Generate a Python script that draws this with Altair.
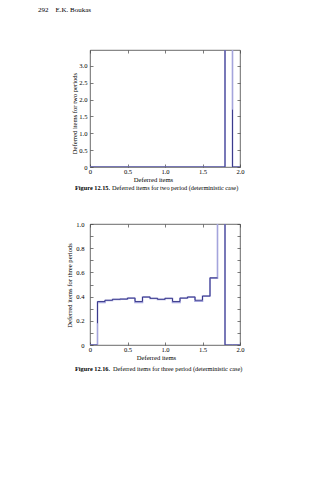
import altair as alt
import pandas as pd

FONT = "Liberation Serif"

# ---------------- data ----------------
header_text = "292\u00a0\u00a0\u00a0\u00a0E.K. Boukas"

# Figure 12.15 (two periods)
f1_light_x = [0.0, 1.8, 1.8, 1.9, 1.9, 2.0]
f1_light_y = [0.0, 0.0, 4.0, 4.0, 0.0, 0.0]
f1_dark_x = [0.0, 1.8, 1.8, 1.9, 1.9, 2.0]
f1_dark_y = [0.0, 0.0, 4.0, 1.7, 0.0, 0.0]
f1_dark_seg = [0, 0, 0, 1, 1, 1]
f1_caption_bold = "Figure 12.15."
f1_caption_rest = "Deferred items for two period (deterministic case)"
f1_ylabel = "Deferred items for two periods"

# Figure 12.16 (three periods): step function on 0.1-wide cells
f2_edges = [0.0, 0.1, 0.2, 0.3, 0.4, 0.5, 0.6, 0.7, 0.8, 0.9, 1.0,
            1.1, 1.2, 1.3, 1.4, 1.5, 1.6, 1.7, 1.8, 1.9, 2.0]
f2_dark_vals = [0.0, 0.36, 0.37, 0.378, 0.38, 0.388, 0.36, 0.397, 0.386, 0.378,
                0.386, 0.36, 0.388, 0.397, 0.37, 0.405, 0.555, 1.2, 0.0, 0.0]
f2_light_vals = [0.0, 0.352, 0.368, 0.376, 0.378, 0.386, 0.352, 0.395, 0.384, 0.376,
                 0.384, 0.352, 0.386, 0.395, 0.362, 0.403, 0.553, 1.2, 0.0, 0.0]
f2_dark_start = 0.18
f2_caption_bold = "Figure 12.16."
f2_caption_rest = "Deferred items for three period (deterministic case)"
f2_ylabel = "Deferred items for three periods"
xlabel = "Deferred items"

x_ticks = [0.0, 0.5, 1.0, 1.5, 2.0]
f1_y_ticks = [0.0, 0.5, 1.0, 1.5, 2.0, 2.5, 3.0]
f2_y_labels = [0.0, 0.2, 0.4, 0.6, 0.8, 1.0]
f2_y_ticks = [0.0, 0.1, 0.2, 0.3, 0.4, 0.5, 0.6, 0.7, 0.8, 0.9, 1.0]

# ---------------- tables ----------------
f1_light = pd.DataFrame({"x": f1_light_x, "y": f1_light_y, "seg": 0,
                         "i": range(len(f1_light_x))})
f1_dark = pd.DataFrame({"x": f1_dark_x, "y": f1_dark_y, "seg": f1_dark_seg,
                        "i": range(len(f1_dark_x))})

rows = []
for k in range(20):
    rows.append((f2_edges[k], f2_light_vals[k], 0))
    rows.append((f2_edges[k + 1], f2_light_vals[k], 0))
f2_light = pd.DataFrame(rows, columns=["x", "y", "seg"])
f2_light["i"] = range(len(f2_light))

rows = [(f2_edges[0], f2_dark_vals[0], 0), (f2_edges[1], f2_dark_vals[0], 0),
        (f2_edges[1], f2_dark_start, 1)]
for k in range(1, 17):
    rows.append((f2_edges[k], f2_dark_vals[k], 1))
    rows.append((f2_edges[k + 1], f2_dark_vals[k], 1))
rows.append((f2_edges[18], f2_dark_vals[17], 2))
for k in range(18, 20):
    rows.append((f2_edges[k], f2_dark_vals[k], 2))
    rows.append((f2_edges[k + 1], f2_dark_vals[k], 2))
f2_dark = pd.DataFrame(rows, columns=["x", "y", "seg"])
f2_dark["i"] = range(len(f2_dark))

LABEL_EXPR = "datum.value == 0 ? '0' : format(datum.value, '.1f')"
DARK = "#3b3b8c"
LIGHT = "#a4a4dc"
TICKC = "#444444"


def figure(light, dark, W, H, ydom, ylabels, yticks, ylabel,
           ylabpad, ytitlex, ytitley, xtitlex, xtitley,
           cap_bold, cap_rest, cap_x, cap_y, cap_x2, header=None):
    xs = alt.Scale(domain=[0, 2], nice=False, zero=False)
    ys = alt.Scale(domain=ydom, nice=False, zero=False)

    def inner_x(orient):
        return alt.Axis(orient=orient, offset=-H, values=x_ticks, labels=False,
                        ticks=True, tickSize=3, tickColor=TICKC, tickWidth=0.7,
                        domain=False, grid=False, title=None)

    def inner_y(orient):
        return alt.Axis(orient=orient, offset=-W, values=yticks, labels=False,
                        ticks=True, tickSize=3, tickColor=TICKC, tickWidth=0.7,
                        domain=False, grid=False, title=None)

    base_x_axis = alt.Axis(orient="bottom", values=x_ticks, ticks=False, domain=False,
                           grid=False, labelExpr=LABEL_EXPR, labelPadding=1,
                           labelFlush=False, labelFontSize=6.6, title=xlabel,
                           titleX=xtitlex, titleY=xtitley, titleBaseline="middle",
                           titleAlign="center", titleFontSize=6.6, titleFontWeight="normal")
    base_y_axis = alt.Axis(orient="left", values=ylabels, ticks=False, domain=False,
                           grid=False, labelExpr=LABEL_EXPR, labelPadding=ylabpad,
                           labelFlush=False, labelFontSize=6.6, title=ylabel,
                           titleX=ytitlex, titleY=ytitley, titleAngle=270,
                           titleBaseline="middle", titleAlign="center",
                           titleFontSize=6.6, titleFontWeight="normal")

    light_layer = alt.Chart(light).mark_line(clip=True, color=LIGHT, strokeWidth=1.6).encode(
        x=alt.X("x:Q", scale=xs, axis=base_x_axis),
        y=alt.Y("y:Q", scale=ys, axis=base_y_axis),
        order="i:Q", detail="seg:N")
    dark_layer = alt.Chart(dark).mark_line(clip=True, color=DARK, strokeWidth=1.0).encode(
        x=alt.X("x:Q", scale=xs, axis=inner_x("top")),
        y=alt.Y("y:Q", scale=ys, axis=inner_y("right")),
        order="i:Q", detail="seg:N")
    ghost_layer = alt.Chart(dark).mark_line(clip=True, strokeOpacity=0).encode(
        x=alt.X("x:Q", scale=xs, axis=inner_x("bottom")),
        y=alt.Y("y:Q", scale=ys, axis=inner_y("left")),
        order="i:Q", detail="seg:N")

    cap1 = alt.Chart(pd.DataFrame({"t": [cap_bold]})).mark_text(
        font=FONT, fontSize=6.3, fontWeight="bold", align="left", baseline="middle",
        color="black").encode(x=alt.value(cap_x), y=alt.value(cap_y), text="t:N")
    cap2 = alt.Chart(pd.DataFrame({"t": [cap_rest]})).mark_text(
        font=FONT, fontSize=6.3, align="left", baseline="middle",
        color="black").encode(x=alt.value(cap_x2), y=alt.value(cap_y), text="t:N")
    layers = [light_layer, dark_layer, ghost_layer, cap1, cap2]
    if header is not None:
        layers.append(alt.Chart(pd.DataFrame({"t": [header]})).mark_text(
            font=FONT, fontSize=7, align="left", baseline="middle", color="black"
        ).encode(x=alt.value(-52), y=alt.value(-40), text="t:N"))
    return alt.layer(*layers).resolve_axis(x="independent", y="independent").properties(
        width=W, height=H)


fig1 = figure(f1_light, f1_dark, 150, 117, [0, 3.47], f1_y_ticks, f1_y_ticks, f1_ylabel,
              3, -16, 63, 63, 12, f1_caption_bold, f1_caption_rest, -15, 138, 22,
              header=header_text)
fig2 = figure(f2_light, f2_dark, 150, 121, [0, 1.0], f2_y_labels, f2_y_ticks, f2_ylabel,
              6, -21, 61, 66, 12.5, f2_caption_bold, f2_caption_rest, -15, 145, 23)

chart = alt.vconcat(fig1, fig2, spacing=57, bounds="flush").properties(
    padding={"left": 37, "top": 5, "right": 0, "bottom": 0},
    background="white",
).configure_view(stroke="#444444", strokeWidth=0.8).configure_axis(
    labelFont=FONT, titleFont=FONT, labelColor="black", titleColor="black"
).configure_text(font=FONT)

chart.save("out.html", embed_options={"renderer": "svg", "actions": False})
